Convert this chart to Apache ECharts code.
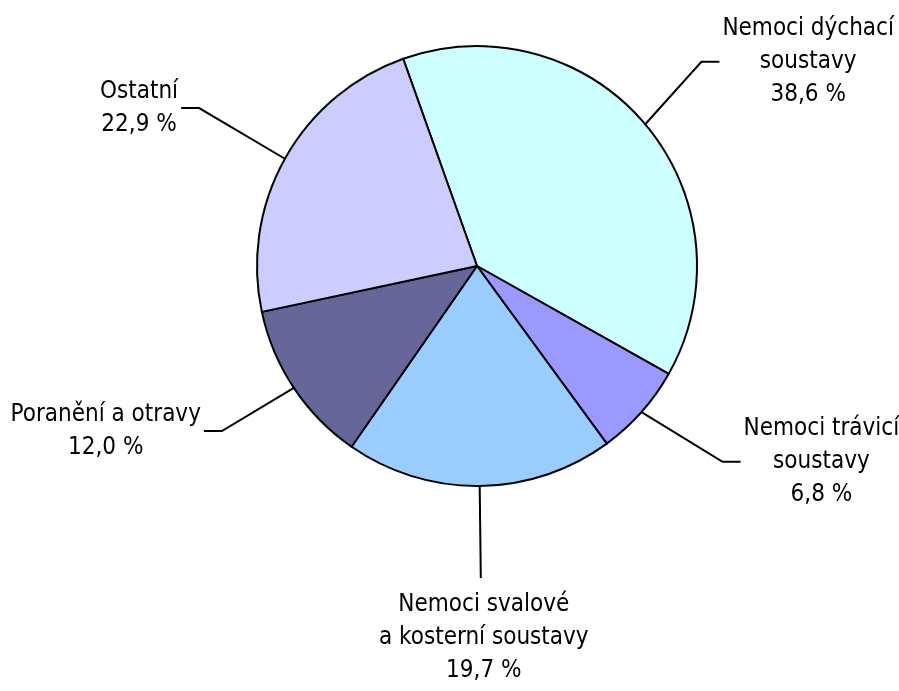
<!DOCTYPE html>
<html>
<head>
<meta charset="utf-8">
<script src="https://cdn.jsdelivr.net/npm/echarts@6/dist/echarts.min.js"></script>
<style>
html,body{margin:0;padding:0;background:#fff;}
#chart{width:899px;height:691px;}
</style>
</head>
<body>
<div id="chart"></div>
<script>
var categories = ['Nemoci dýchací\nsoustavy', 'Nemoci trávicí\nsoustavy', 'Nemoci svalové\na kosterní soustavy', 'Poranění a otravy', 'Ostatní'];
var values = [38.6, 6.8, 19.7, 12.0, 22.9];
var colors = ['#CCFFFF', '#9999FF', '#99CCFF', '#666699', '#CCCCFF'];
var lineLen = [97, 75, 92, 78, 104];
var lineLen2 = [0, 43, 0, 25, 13];

var FONT = "'Liberation Sans Narrow', 'Arial Narrow', 'DejaVu Sans Condensed', sans-serif";

function fmtPct(v) { return v.toFixed(1).replace('.', ',') + ' %'; }

var data = categories.map(function (c, i) {
  return {
    name: c,
    value: values[i],
    itemStyle: { color: colors[i] },
    labelLine: { length: lineLen[i], length2: lineLen2[i] }
  };
});

var chart = echarts.init(document.getElementById('chart'));
chart.setOption({
  animation: false,
  series: [{
    type: 'pie',
    left: -300, right: -300, top: 0, bottom: 0,
    center: [477 + 300, 266],
    radius: 220,
    startAngle: 109.6,
    clockwise: true,
    avoidLabelOverlap: false,
    data: data,
    itemStyle: { borderColor: '#000', borderWidth: 2 },
    label: {
      show: true,
      position: 'outside',
      alignTo: 'none',
      distanceToLabelLine: 3,
      overflow: 'none',
      color: '#000',
      fontFamily: FONT,
      fontSize: 24,
      lineHeight: 33,
      formatter: function (p) { return p.name + '\n' + fmtPct(p.value); }
    },
    labelLine: { show: true, lineStyle: { color: '#000', width: 2 } },
    labelLayout: function (params) {
      var pts = params.labelLinePoints;
      if (!pts) return {};
      var p0 = pts[0], p1 = pts[1], p2 = pts[2];
      var r = params.labelRect;
      if (Math.abs(p1[0] - p0[0]) < 10) {
        return {
          x: p1[0] + 3, y: p1[1] + 10,
          align: 'center', verticalAlign: 'top',
          labelLinePoints: [p0, p1, p1]
        };
      }
      var side = p2[0] > p0[0] ? 1 : -1;
      var bend = [p2[0] - side * 18, p2[1]];
      return {
        x: r.x + r.width / 2, y: r.y + r.height / 2,
        align: 'center', verticalAlign: 'middle',
        labelLinePoints: [p0, bend, p2]
      };
    }
  }]
});
</script>
</body>
</html>
